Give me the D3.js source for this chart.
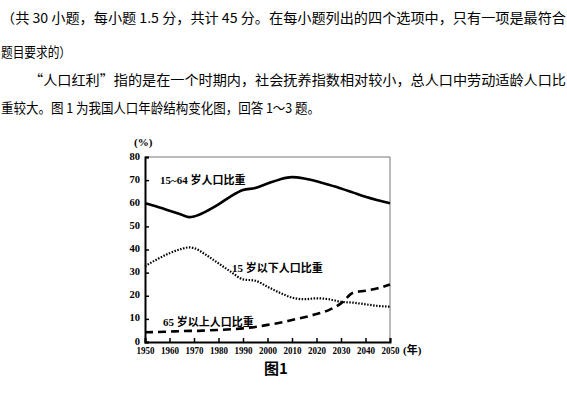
<!DOCTYPE html>
<html>
<head>
<meta charset="utf-8">
<script src="https://cdn.jsdelivr.net/npm/d3@7"></script>
<style>
  body { margin: 0; background: #fff; }
  .para { font-family: "Noto Sans CJK SC", sans-serif; font-size: 13.5px; fill: #000; }
  .tick text { font-family: "Liberation Serif", serif; font-weight: bold; font-size: 10.5px; }
  .label { font-family: "Liberation Serif", "Noto Sans CJK SC", serif; font-weight: bold; font-size: 11px; }
</style>
</head>
<body>
<svg id="chart" width="567" height="395"></svg>
<script>
// 年份与三组人口比重（%）
const years = [1950, 1955, 1960, 1965, 1968, 1970, 1975, 1980, 1985, 1990, 1995, 2000, 2005, 2010, 2015, 2020, 2025, 2030, 2035, 2040, 2045, 2050];
const working = [60, 58.5, 56.8, 55, 54, 54.3, 56.5, 59.5, 63, 65.7, 66.6, 68.5, 70.3, 71.3, 70.7, 69.5, 68, 66.4, 64.6, 62.8, 61.3, 60];
const young = [32.8, 35.8, 38.4, 40.3, 40.9, 40.6, 37.6, 34, 30.4, 27.1, 26.5, 23.9, 21.3, 19.2, 18.5, 18.9, 18.5, 17.4, 17, 16.3, 15.6, 15.3];
const old = [4.2, 4.3, 4.5, 4.7, 4.8, 4.8, 5, 5.2, 5.5, 5.9, 6.5, 7.4, 8.3, 9.5, 10.7, 12.1, 13.8, 16.7, 21.3, 22.2, 23.2, 24.9];
const xTicks = d3.range(1950, 2051, 10);
const yTicks = d3.range(0, 81, 10);

const paragraph = [
  { text: "（共 30 小题，每小题 1.5 分，共计 45 分。在每小题列出的四个选项中，只有一项是最符合", x: 1, y: 23, w: 565 },
  { text: "题目要求的）", x: 1, y: 57, w: 70 },
  { text: "“人口红利”指的是在一个时期内，社会抚养指数相对较小，总人口中劳动适龄人口比", x: 29, y: 85, w: 537 },
  { text: "重较大。图 1 为我国人口年龄结构变化图，回答 1～3 题。", x: 1, y: 113, w: 319 }
];

const svg = d3.select("#chart");

svg.selectAll("text.para").data(paragraph).enter().append("text")
  .attr("class", "para")
  .attr("x", d => d.x).attr("y", d => d.y)
  .attr("textLength", d => d.w).attr("lengthAdjust", "spacingAndGlyphs")
  .text(d => d.text);

const pLeft = 145, pRight = 390, pTop = 157, pBottom = 342;
const x = d3.scaleLinear().domain([1950, 2050]).range([pLeft, pRight]);
const y = d3.scaleLinear().domain([0, 80]).range([pBottom, pTop]);

// 上边和右边的细框
svg.append("path")
  .attr("d", `M${pLeft},${pTop}H${pRight}V${pBottom}`)
  .attr("fill", "none").attr("stroke", "#777").attr("stroke-width", 1);

const xAxis = svg.append("g").attr("transform", `translate(0,${pBottom})`)
  .call(d3.axisBottom(x).tickValues(xTicks).tickFormat(d3.format("d")).tickSize(-4).tickPadding(3));
const yAxis = svg.append("g").attr("transform", `translate(${pLeft},0)`)
  .call(d3.axisLeft(y).tickValues(yTicks).tickSize(-4).tickPadding(5));
[xAxis, yAxis].forEach(g => {
  g.select(".domain").attr("stroke", "#000").attr("stroke-width", 2);
  g.selectAll(".tick line").attr("stroke", "#000").attr("stroke-width", 1.5);
  g.selectAll(".tick text").attr("fill", "#000");
});
// 横轴年份为窄体字
xAxis.selectAll(".tick text").attr("dy", "0.9em")
  .attr("textLength", 18).attr("lengthAdjust", "spacingAndGlyphs");
yAxis.selectAll(".tick text").attr("dy", "0.2em");

const line = vals => d3.line().curve(d3.curveMonotoneX)
  .x((d, i) => x(years[i])).y(d => y(d))(vals);

svg.append("path").attr("d", line(working))
  .attr("fill", "none").attr("stroke", "#000").attr("stroke-width", 2.6);
svg.append("path").attr("d", line(young))
  .attr("fill", "none").attr("stroke", "#000").attr("stroke-width", 2.2)
  .attr("stroke-dasharray", "1.5,1.5");
svg.append("path").attr("d", line(old))
  .attr("fill", "none").attr("stroke", "#000").attr("stroke-width", 2.6)
  .attr("stroke-dasharray", "8,5");

const labels = [
  { text: "15~64 岁人口比重", x: 160, y: 184 },
  { text: "15 岁以下人口比重", x: 232, y: 272 },
  { text: "65 岁以上人口比重", x: 163, y: 326 },
  { text: "(%)", x: 134, y: 146 },
  { text: "(年)", x: 403, y: 354 }
];
svg.selectAll("text.label").data(labels).enter().append("text")
  .attr("class", "label")
  .attr("x", d => d.x).attr("y", d => d.y)
  .text(d => d.text);

svg.append("text")
  .attr("x", 276).attr("y", 374).attr("text-anchor", "middle")
  .style("font-family", "Noto Sans CJK SC, sans-serif").style("font-weight", "bold").style("font-size", "15px")
  .text("图1");
</script>
</body>
</html>
